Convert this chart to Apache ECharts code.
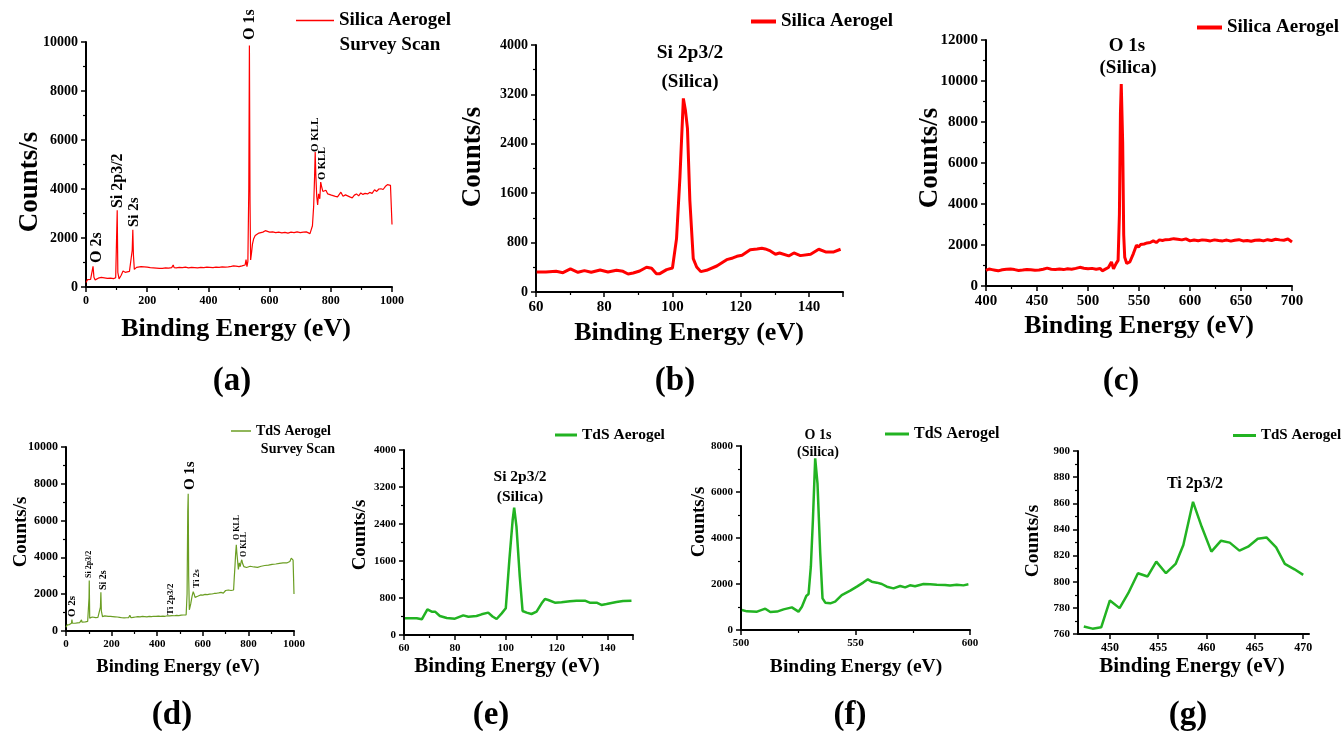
<!DOCTYPE html>
<html><head><meta charset="utf-8">
<script src="https://cdn.jsdelivr.net/npm/echarts@6/dist/echarts.min.js"></script>
<style>html,body{margin:0;padding:0;background:#fff}#c{width:1344px;height:731px}</style>
</head><body><div id="c"></div>
<script>
// ---- (a) Silica aerogel survey scan ----
const aX = [0,5,10,15,20,23,26,30,40,50,60,70,80,90,97,100,102,104,108,115,121,128,135,142,148,151,153,155,158,165,171,180,190,200,210,220,230,240,250,260,270,280,285,288,295,305,315,325,335,345,355,365,375,385,395,405,415,425,435,445,455,465,475,482,490,500,510,516,520,523,526,529,532,534,536,538,541,544,548,553,559,565,570,578,586,592,600,610,620,630,640,650,660,670,680,690,700,710,720,726,732,736,740,744,747,749,751,754,757,760,764,767,770,774,779,784,790,796,802,808,815,822,828,833,840,848,855,862,870,877,884,891,898,905,912,920,927,935,943,950,957,964,971,978,985,991,995,998,1000];
const aY = [180,300,220,310,260,840,400,290,360,390,370,350,360,340,380,400,3130,600,330,480,650,600,620,640,700,1500,2340,1300,720,800,880,830,820,810,790,780,770,760,760,780,770,790,900,790,780,800,790,810,780,800,790,780,800,790,810,800,790,810,800,820,810,820,840,860,850,830,860,820,900,1120,830,1050,4000,9860,3500,1100,1400,1750,1970,2100,2180,2200,2250,2240,2300,2280,2240,2250,2220,2240,2210,2230,2200,2240,2220,2250,2220,2240,2250,2210,2180,2120,2500,3300,4500,5510,4600,3700,3350,3800,3600,4280,4100,3900,3850,3950,3800,3880,3750,3720,3700,3680,3740,3870,3700,3760,3720,3680,3640,3750,3800,3720,3840,3780,3820,3800,3860,3820,3970,3900,4000,4010,3980,4100,4180,4240,4150,4200,2550];
// ---- (b) Si 2p3/2 silica ----
const bX = [60.2,62.9,65.9,67.9,70.1,72.3,74.2,76.2,78.8,81.1,83.6,85.5,87.0,88.5,90.4,92.4,93.9,95.3,96.3,98.3,100.0,101.2,102.2,103.2,103.8,104.4,105.1,106.1,107.1,108.3,110.0,113.0,115.9,117.7,118.9,120.4,122.8,124.8,126.2,127.2,128.7,130.2,131.4,134.1,135.6,137.5,140.5,142.9,144.9,147.3,149.3];
const bY = [324,324,335,313,373,319,346,319,357,324,351,335,292,308,340,400,384,297,297,362,389,865,1865,3135,2945,2650,1486,540,405,330,351,421,524,551,578,595,686,697,708,697,665,611,632,584,632,589,611,692,649,649,692];
// ---- (c) O 1s silica ----
const cX = [400,403,406,409,412,416,420,424,428,432,436,440,444,448,452,456,460,464,468,472,476,480,484,488,492,496,500,504,508,512,514,517,520,523,525,527.5,529.5,530.8,531.8,532.6,533.3,534,535,536,538,541,544.5,547.5,549.5,551.5,555,558,561,564,567,570,573,576,580,584,588,592,596,600,604,608,612,616,620,624,628,632,636,640,644,648,652,656,660,664,668,672,676,680,684,688,692,696,700];
const cY = [760,830,800,770,740,790,820,830,800,760,780,810,790,770,780,820,870,820,810,830,800,840,820,860,910,870,840,860,820,850,740,820,900,1170,840,1090,1250,3500,8400,9850,9800,7000,2500,1400,1100,1170,1580,1990,1900,2020,2050,2100,2120,2200,2120,2250,2220,2260,2270,2310,2280,2250,2300,2200,2240,2210,2250,2230,2200,2250,2220,2200,2240,2190,2230,2260,2200,2220,2180,2230,2240,2200,2260,2220,2280,2250,2230,2290,2150];
// ---- (d) TdS aerogel survey scan ----
const dX = [0,5,10,15,20,24,26,28,32,40,50,60,66,68,70,75,85,95,99,101,102,104,108,115,122,130,140,148,151,153,155,160,170,176,185,195,205,215,225,235,245,255,265,275,280,285,295,305,315,325,335,345,355,365,375,385,395,405,415,425,435,445,455,465,475,485,495,505,515,522,527,531,534,536,538,541,547,553,558,562,566,572,580,590,600,610,620,630,640,650,660,670,680,690,700,706,712,718,724,730,735,738,741,744,747,749,752,756,760,764,768,771,775,780,786,792,800,808,816,824,832,840,848,856,864,872,880,888,896,904,912,920,928,936,944,952,960,968,976,982,988,992,996,1000];
const dY = [200,330,300,350,380,420,620,430,400,420,440,460,470,600,480,470,500,520,560,1800,2740,700,640,760,720,730,740,760,1300,2100,1100,780,820,860,800,790,780,770,760,740,720,710,720,730,850,720,740,760,780,770,790,780,770,790,780,800,790,810,800,810,800,830,820,840,830,850,840,860,870,900,880,2000,6500,7460,3000,1150,1470,1900,2140,2000,1830,1880,1900,1960,1950,1990,1980,2000,2010,2040,2050,2070,2100,2060,2200,2150,2230,2150,2200,2180,2230,2900,3500,4200,4680,4300,3900,3350,3700,3500,3750,3870,3650,3500,3550,3450,3500,3520,3450,3480,3500,3460,3450,3520,3480,3560,3520,3580,3560,3620,3600,3640,3620,3680,3660,3700,3720,3700,3760,3780,3960,3880,3850,2015];
// ---- (e) Si 2p3/2 TdS ----
const eX = [60.4,65,67,69.2,70.9,72.2,74.1,76.8,80,83.3,85.3,88.5,90.5,93.1,94.8,96.4,98.4,100,101.4,102.7,103.3,104.2,105.5,106.6,108.2,110.1,112.1,114.1,115.4,116.7,119.3,121.9,125.2,127.8,131.1,133,135.7,137.6,139.6,143.5,146.1,149.4];
const eY = [360,360,339,555,505,505,411,368,353,425,396,411,447,483,400,346,468,577,1620,2486,2753,2342,1261,519,483,454,505,685,778,757,699,706,728,742,742,699,699,649,670,713,735,742];
// ---- (f) O 1s TdS ----
const fX = [500.4,502.6,507,510.6,512.8,515.7,518.6,522.2,525.1,526.6,528.5,529.5,530.5,531.4,532.4,533.4,534.6,535.6,536.8,539,541.1,544,547.7,550.6,553.5,555.4,557.1,559.3,561.5,563.7,566.6,569.5,571.7,573.8,576,579.7,582.6,585.5,589.1,591.3,594.2,597.1,599.3];
const fY = [869,811,797,927,782,800,898,985,797,1014,1478,1565,2753,4782,7462,6376,3333,1377,1188,1159,1232,1521,1710,1884,2072,2203,2101,2058,2000,1884,1811,1913,1855,1942,1900,2000,1990,1970,1960,1930,1970,1940,1985];
// ---- (g) Ti 2p3/2 TdS ----
const gX = [447.3,448.2,449.1,450.0,451.0,451.9,452.9,453.9,454.8,455.8,456.8,457.6,458.6,459.5,460.5,461.5,462.4,463.4,464.3,465.3,466.2,467.2,468.1,469.1,470.0];
const gY = [765.8,764.1,765.1,785.7,779.8,791.2,806.5,804,815.4,806.5,813.6,828.1,861.1,842,823,831.4,829.9,823.8,826.8,832.9,833.9,826.3,813.6,809.5,805.2];

const gTicks = [450,455,460,465,470];
const panelLetters = ['(a)','(b)','(c)','(d)','(e)','(f)','(g)'];
const legendNames = ['Silica Aerogel','Silica Aerogel','Silica Aerogel','TdS Aerogel','TdS Aerogel','TdS Aerogel','TdS Aerogel'];

const FONT = '"Liberation Serif","Times New Roman",serif';
const RED = '#ff0000', GREEN = '#22b322', OLIVE = '#6b9e23';

const P = [
  {grid:{left:86,top:42,width:306,height:245}, xr:[0,1000,200], yr:[0,10000,2000], xfs:12, yfs:14, data:[aX,aY], color:RED, lw:1.2, leg:{left:296,top:11,w:38,fs:19,lw:1.5}},
  {grid:{left:536,top:45,width:307,height:247}, xr:[60,150,20], yr:[0,4000,800], xfs:15, yfs:14, data:[bX,bY], color:RED, lw:3, leg:{left:751,top:12,w:25,fs:19,lw:4}},
  {grid:{left:986,top:40,width:306,height:246}, xr:[400,700,50], yr:[0,12000,2000], xfs:15, yfs:15, data:[cX,cY], color:RED, lw:3, leg:{left:1197,top:18,w:25,fs:19,lw:4}},
  {grid:{left:66,top:447,width:228,height:184}, xr:[0,1000,200], yr:[0,10000,2000], xfs:11, yfs:12, data:[dX,dY], color:OLIVE, lw:1.2, leg:{left:231,top:424,w:20,fs:14,lw:1.5}},
  {grid:{left:404,top:450,width:229,height:185}, xr:[60,150,20], yr:[0,4000,800], xfs:11, yfs:11, data:[eX,eY], color:GREEN, lw:2.5, leg:{left:555,top:427,w:22,fs:15.5,lw:3}},
  {grid:{left:741,top:446,width:229,height:184}, xr:[500,600,50], yr:[0,8000,2000], xfs:11, yfs:11, data:[fX,fY], color:GREEN, lw:2.5, leg:{left:885,top:426,w:24,fs:16,lw:3}},
  {grid:{left:1078,top:451,width:231,height:183}, xr:[446.7,470.6,null], yr:[760,900,20], xfs:12, yfs:11, data:[gX,gY], color:GREEN, lw:2.5, leg:{left:1233,top:428,w:23,fs:15,lw:3}}
];

const axisCommon = (fs) => ({
  axisLine:{show:true,onZero:false,lineStyle:{color:'#000',width:2}},
  axisTick:{show:true,inside:false,length:5,lineStyle:{color:'#000',width:1.5}},
  minorTick:{show:true,splitNumber:2,length:3,lineStyle:{color:'#000',width:1.2}},
  splitLine:{show:false}, minorSplitLine:{show:false},
  axisLabel:{color:'#000',fontFamily:FONT,fontWeight:'bold',fontSize:fs,margin:8,formatter:(v)=>String(v)}
});

const option = {
  backgroundColor:'#fff',
  animation:false,
  grid: P.map(p=>Object.assign({containLabel:false},p.grid)),
  xAxis: P.map((p,i)=>{
    const ax = Object.assign({type:'value',gridIndex:i,min:p.xr[0],max:p.xr[1]}, axisCommon(p.xfs));
    if (p.xr[2]) { ax.interval = p.xr[2]; ax.axisLabel.showMaxLabel = (p.xr[1]-p.xr[0]) % p.xr[2] === 0; }
    else {
      ax.axisLabel.customValues = gTicks; ax.axisTick.customValues = gTicks; ax.minorTick.show = false;
    }
    return ax;
  }),
  yAxis: P.map((p,i)=>Object.assign({type:'value',gridIndex:i,min:p.yr[0],max:p.yr[1],interval:p.yr[2]}, axisCommon(p.yfs))),
  legend: P.map((p,i)=>({
    data:[legendNames[i]+' '+panelLetters[i]],
    left:p.leg.left, top:p.leg.top, padding:0, itemWidth:p.leg.w, itemHeight:p.leg.lw,
    icon:'rect', itemGap:0,
    formatter:()=>legendNames[i],
    selectedMode:false,
    itemStyle:{color:p.color, borderWidth:0},
    textStyle:{color:'#000',fontFamily:FONT,fontWeight:'bold',fontSize:p.leg.fs}
  })),
  series: P.map((p,i)=>({
    type:'line', name:legendNames[i]+' '+panelLetters[i], xAxisIndex:i, yAxisIndex:i,
    data:p.data[0].map((x,k)=>[x,p.data[1][k]]),
    showSymbol:false, symbol:'none', clip:false,
    lineStyle:{color:p.color,width:p.lw}, itemStyle:{color:p.color}
  }))
};

const chart = echarts.init(document.getElementById('c'), null, {renderer:'canvas'});
chart.setOption(option);

function txt(text, x, y, fs, rot, align){
  return {type:'text', x:x, y:y, rotation:rot||0, silent:true,
    style:{text:text, fill:'#000', fontFamily:FONT, fontWeight:'bold', fontSize:fs, align:align||'center', verticalAlign:'middle'}};
}
const G = [];
const xTitles = [[236,329,26],[689,333,26],[1139,326,26],[178,667,18.5],[507,667,21],[856,667,19.5],[1192,667,21]];
const yTitles = [[30,182,27],[473,157,27],[930,158,27],[21,532,19],[360,535,19],[699,522,19],[1033,541,19.5]];
const letters = [[232,381],[675,381],[1121,381],[172,715],[491,715],[850,715],[1188,715]];
for (let i=0;i<7;i++){
  G.push(txt('Binding Energy (eV)', xTitles[i][0], xTitles[i][1], xTitles[i][2]));
  G.push(txt('Counts/s', yTitles[i][0], yTitles[i][1], yTitles[i][2], Math.PI/2));
  G.push(txt(panelLetters[i], letters[i][0], letters[i][1], 33));
}
G.push(txt('Survey Scan', 390, 45, 19));
G.push(txt('Survey Scan', 298, 449, 14));
[['Si 2p3/2',690,53,19.5],['(Silica)',690,82,19],
 ['O 1s',1127,46,19],['(Silica)',1128,68,19],
 ['Si 2p3/2',520,477,15.5],['(Silica)',520,497,15.5],
 ['O 1s',818,435,14],['(Silica)',818,452,14],
 ['Ti 2p3/2',1195,484,16]].forEach(t=>G.push(txt(t[0],t[1],t[2],t[3])));
const annA = [['O 1s',536,10080,16],['O 2s',36,980,16],['Si 2p3/2',103,3220,16],['Si 2s',157,2450,15],['O KLL',748,5510,11],['O KLL',773,4370,10.5]];
const annD = [['O 2s',28,760,11],['Si 2p3/2',101,2880,8],['Si 2s',164,2230,10],['Ti 2p3/2',460,870,9],['O 1s',544,7660,15],['Ti 2s',572,2340,9],['O KLL',748,4950,8],['O KLL',781,4020,8]];
[[annA,0],[annD,3]].forEach(([arr,gi])=>{
  arr.forEach(a=>{
    const px = chart.convertToPixel({gridIndex:gi},[a[1],a[2]]);
    G.push(txt(a[0], px[0], px[1], a[3], Math.PI/2, 'left'));
  });
});
chart.setOption({graphic:G});
</script></body></html>
